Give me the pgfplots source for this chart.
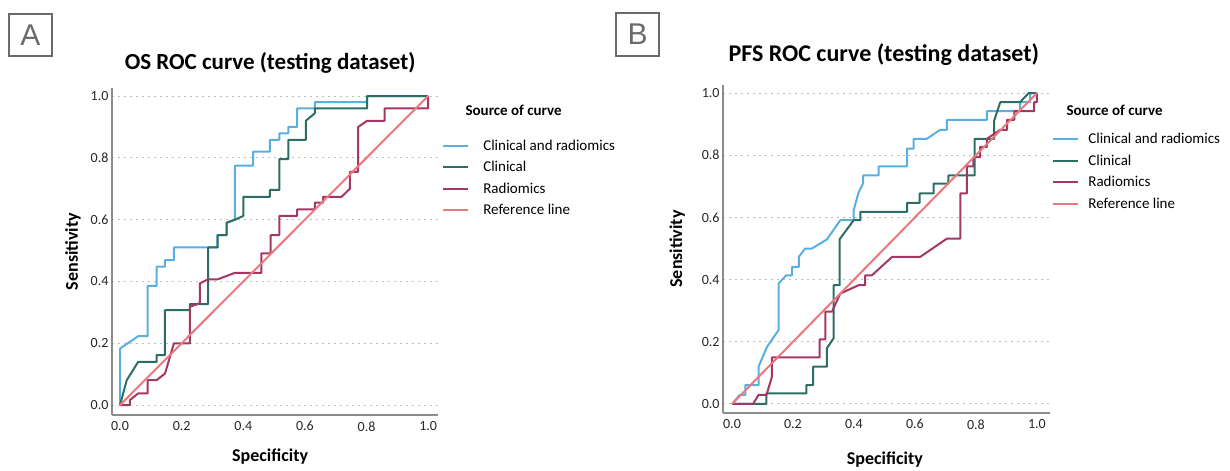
\documentclass[border=0pt]{standalone}
\usepackage{pgfplots}
\pgfplotsset{compat=1.18}
\usepackage{fontspec}
\setmainfont{Carlito}
\newfontfamily\boxfont{Liberation Sans}
\definecolor{blueC}{RGB}{90,175,225}
\definecolor{greenC}{RGB}{45,110,100}
\definecolor{purpC}{RGB}{165,55,100}
\definecolor{refC}{RGB}{235,120,125}
\definecolor{gridC}{RGB}{190,190,190}
\definecolor{axisC}{RGB}{140,140,140}
\definecolor{boxC}{RGB}{105,106,110}
\pgfplotsset{
  rocaxis/.style={
    scale only axis,
    anchor=south west,
    axis lines=left,
    axis line style={-, draw=axisC, line width=1.3pt},
    major tick length=0pt,
    xtick={0,0.2,0.4,0.6,0.8,1.0},
    ytick={0,0.2,0.4,0.6,0.8,1.0},
    ymajorgrids,
    grid style={draw=gridC, line width=1pt, dash pattern=on 2pt off 4pt},
    /pgf/number format/assume math mode=true,
    /pgf/number format/fixed,
    /pgf/number format/fixed zerofill,
    /pgf/number format/precision=1,
    tick label style={font=\fontsize{14}{16}\selectfont, text=black!85},
    xticklabel style={yshift=-3pt},
    label style={font=\bfseries\fontsize{18}{21}\selectfont},
    title style={font=\bfseries\fontsize{23}{27}\selectfont, anchor=center},
    legend cell align=left,
    legend style={draw=none, fill=none, anchor=north west,
      font=\fontsize{15}{18}\selectfont, row sep=9.5pt, inner sep=0pt},
    legend image code/.code={\draw[#1, line width=2.2pt] (0pt,0pt) -- (25pt,0pt);},
    every axis plot/.append style={line width=2pt, line join=round},
  }
}
\begin{document}
\begin{tikzpicture}
\path (0pt,0pt) rectangle (1230pt,469pt);
% Panel labels
\draw[boxC, line width=2.5pt] (9pt,413pt) rectangle (52pt,455pt);
\node[text=boxC, font=\boxfont\fontsize{30}{30}\selectfont] at (30.5pt,434pt) {A};
\draw[boxC, line width=2.5pt] (616pt,413pt) rectangle (659pt,456pt);
\node[text=boxC, font=\boxfont\fontsize{30}{30}\selectfont] at (637.5pt,434.5pt) {B};

% Panel A
\begin{axis}[rocaxis,
  at={(112pt,54pt)}, width=326pt, height=327pt,
  xmin=-0.026, xmax=1.032, ymin=-0.032, ymax=1.026,
  title={OS ROC curve (testing dataset)},
  title style={at={(axis description cs:0.485,1.058)}},
  xlabel={Specificity}, ylabel={Sensitivity},
  xlabel style={at={(axis description cs:0.485,-0.128)}, anchor=center},
  ylabel style={at={(axis description cs:-0.12,0.5)}, anchor=center, rotate=0},
  legend style={at={(axis description cs:1.012,0.842)},
    nodes={inner xsep=14pt, inner ysep=0pt}},
]
\addplot[blueC] coordinates {(0,0)(0,0.183)(0.059,0.223)(0.09,0.223)(0.09,0.386)(0.119,0.386)(0.119,0.448)(0.146,0.448)(0.146,0.469)(0.175,0.469)(0.175,0.51)(0.286,0.51)(0.316,0.51)(0.316,0.55)(0.346,0.55)(0.346,0.59)(0.373,0.60)(0.373,0.775)(0.432,0.775)(0.432,0.82)(0.486,0.82)(0.486,0.858)(0.517,0.858)(0.517,0.879)(0.546,0.879)(0.546,0.90)(0.575,0.90)(0.575,0.96)(0.632,0.96)(0.632,0.98)(0.802,0.98)(0.802,1.0)(1,1)};
\addlegendentry{Clinical and radiomics}
\addplot[greenC] coordinates {(0,0)(0.022,0.081)(0.059,0.14)(0.119,0.14)(0.119,0.162)(0.146,0.162)(0.146,0.307)(0.227,0.307)(0.227,0.327)(0.286,0.327)(0.286,0.51)(0.317,0.51)(0.317,0.55)(0.346,0.55)(0.346,0.59)(0.373,0.60)(0.40,0.612)(0.40,0.674)(0.486,0.674)(0.486,0.696)(0.517,0.696)(0.517,0.796)(0.546,0.796)(0.546,0.858)(0.603,0.858)(0.603,0.92)(0.632,0.944)(0.632,0.96)(0.802,0.96)(0.802,1.0)(1,1)};
\addlegendentry{Clinical}
\addplot[purpC] coordinates {(0,0)(0.032,0)(0.032,0.016)(0.059,0.038)(0.09,0.038)(0.09,0.081)(0.119,0.081)(0.146,0.102)(0.175,0.2)(0.227,0.2)(0.227,0.318)(0.259,0.33)(0.259,0.394)(0.286,0.407)(0.317,0.407)(0.373,0.428)(0.459,0.428)(0.459,0.491)(0.489,0.491)(0.489,0.55)(0.517,0.55)(0.517,0.612)(0.575,0.612)(0.575,0.633)(0.632,0.633)(0.632,0.655)(0.659,0.655)(0.659,0.674)(0.719,0.674)(0.746,0.70)(0.746,0.755)(0.773,0.755)(0.773,0.90)(0.802,0.92)(0.859,0.92)(0.859,0.96)(1,0.96)(1,1)};
\addlegendentry{Radiomics}
\addplot[refC] coordinates {(0,0)(1,1)};
\addlegendentry{Reference line}
\end{axis}
\node[anchor=west, font=\bfseries\fontsize{15}{18}\selectfont] at (462pt,359pt) {Source of curve};

% Panel B
\begin{axis}[rocaxis,
  at={(723pt,56pt)}, width=327pt, height=328pt,
  xmin=-0.0295, xmax=1.043, ymin=-0.029, ymax=1.026,
  title={PFS ROC curve (testing dataset)},
  title style={at={(axis description cs:0.492,1.073)}, font=\bfseries\fontsize{24}{28}\selectfont},
  xlabel={Specificity}, ylabel={Sensitivity},
  xlabel style={at={(axis description cs:0.495,-0.143)}, anchor=center},
  ylabel style={at={(axis description cs:-0.14,0.5)}, anchor=center, rotate=0},
  legend style={at={(axis description cs:1.006,0.853)},
    nodes={inner xsep=9pt, inner ysep=0pt}},
]
\addplot[blueC] coordinates {(0,0)(0.025,0.029)(0.044,0.029)(0.044,0.061)(0.087,0.061)(0.087,0.12)(0.115,0.184)(0.153,0.238)(0.153,0.388)(0.178,0.414)(0.197,0.414)(0.197,0.441)(0.219,0.441)(0.219,0.473)(0.24,0.5)(0.262,0.5)(0.311,0.529)(0.355,0.591)(0.399,0.591)(0.399,0.623)(0.415,0.68)(0.43,0.71)(0.43,0.735)(0.481,0.735)(0.481,0.764)(0.574,0.764)(0.574,0.821)(0.596,0.821)(0.596,0.853)(0.639,0.853)(0.683,0.882)(0.705,0.882)(0.705,0.914)(0.836,0.914)(0.836,0.942)(0.945,0.942)(0.945,0.971)(0.978,0.971)(0.978,1)(1,1)};
\addlegendentry{Clinical and radiomics}
\addplot[greenC] coordinates {(0,0)(0.113,0)(0.113,0.034)(0.244,0.034)(0.244,0.061)(0.266,0.061)(0.266,0.12)(0.311,0.12)(0.311,0.179)(0.333,0.211)(0.333,0.382)(0.353,0.382)(0.353,0.53)(0.399,0.591)(0.421,0.591)(0.421,0.618)(0.574,0.618)(0.574,0.647)(0.615,0.647)(0.615,0.677)(0.661,0.677)(0.661,0.709)(0.71,0.709)(0.71,0.735)(0.796,0.735)(0.796,0.853)(0.86,0.853)(0.86,0.912)(0.88,0.971)(0.945,0.971)(0.973,1)(1,1)};
\addlegendentry{Clinical}
\addplot[purpC] coordinates {(0,0)(0.069,0)(0.087,0.029)(0.113,0.029)(0.131,0.088)(0.131,0.15)(0.287,0.15)(0.287,0.208)(0.306,0.208)(0.306,0.297)(0.328,0.297)(0.355,0.355)(0.415,0.382)(0.437,0.382)(0.437,0.414)(0.459,0.414)(0.525,0.473)(0.617,0.473)(0.705,0.532)(0.749,0.532)(0.749,0.677)(0.77,0.677)(0.77,0.764)(0.792,0.764)(0.792,0.794)(0.814,0.794)(0.814,0.827)(0.836,0.827)(0.836,0.853)(0.88,0.882)(0.902,0.882)(0.902,0.914)(0.926,0.914)(0.926,0.942)(0.991,0.942)(0.991,0.971)(1,0.971)(1,1)};
\addlegendentry{Radiomics}
\addplot[refC] coordinates {(0,0)(1,1)};
\addlegendentry{Reference line}
\end{axis}
\node[anchor=west, font=\bfseries\fontsize{15}{18}\selectfont] at (1063pt,359pt) {Source of curve};
\end{tikzpicture}
\end{document}
